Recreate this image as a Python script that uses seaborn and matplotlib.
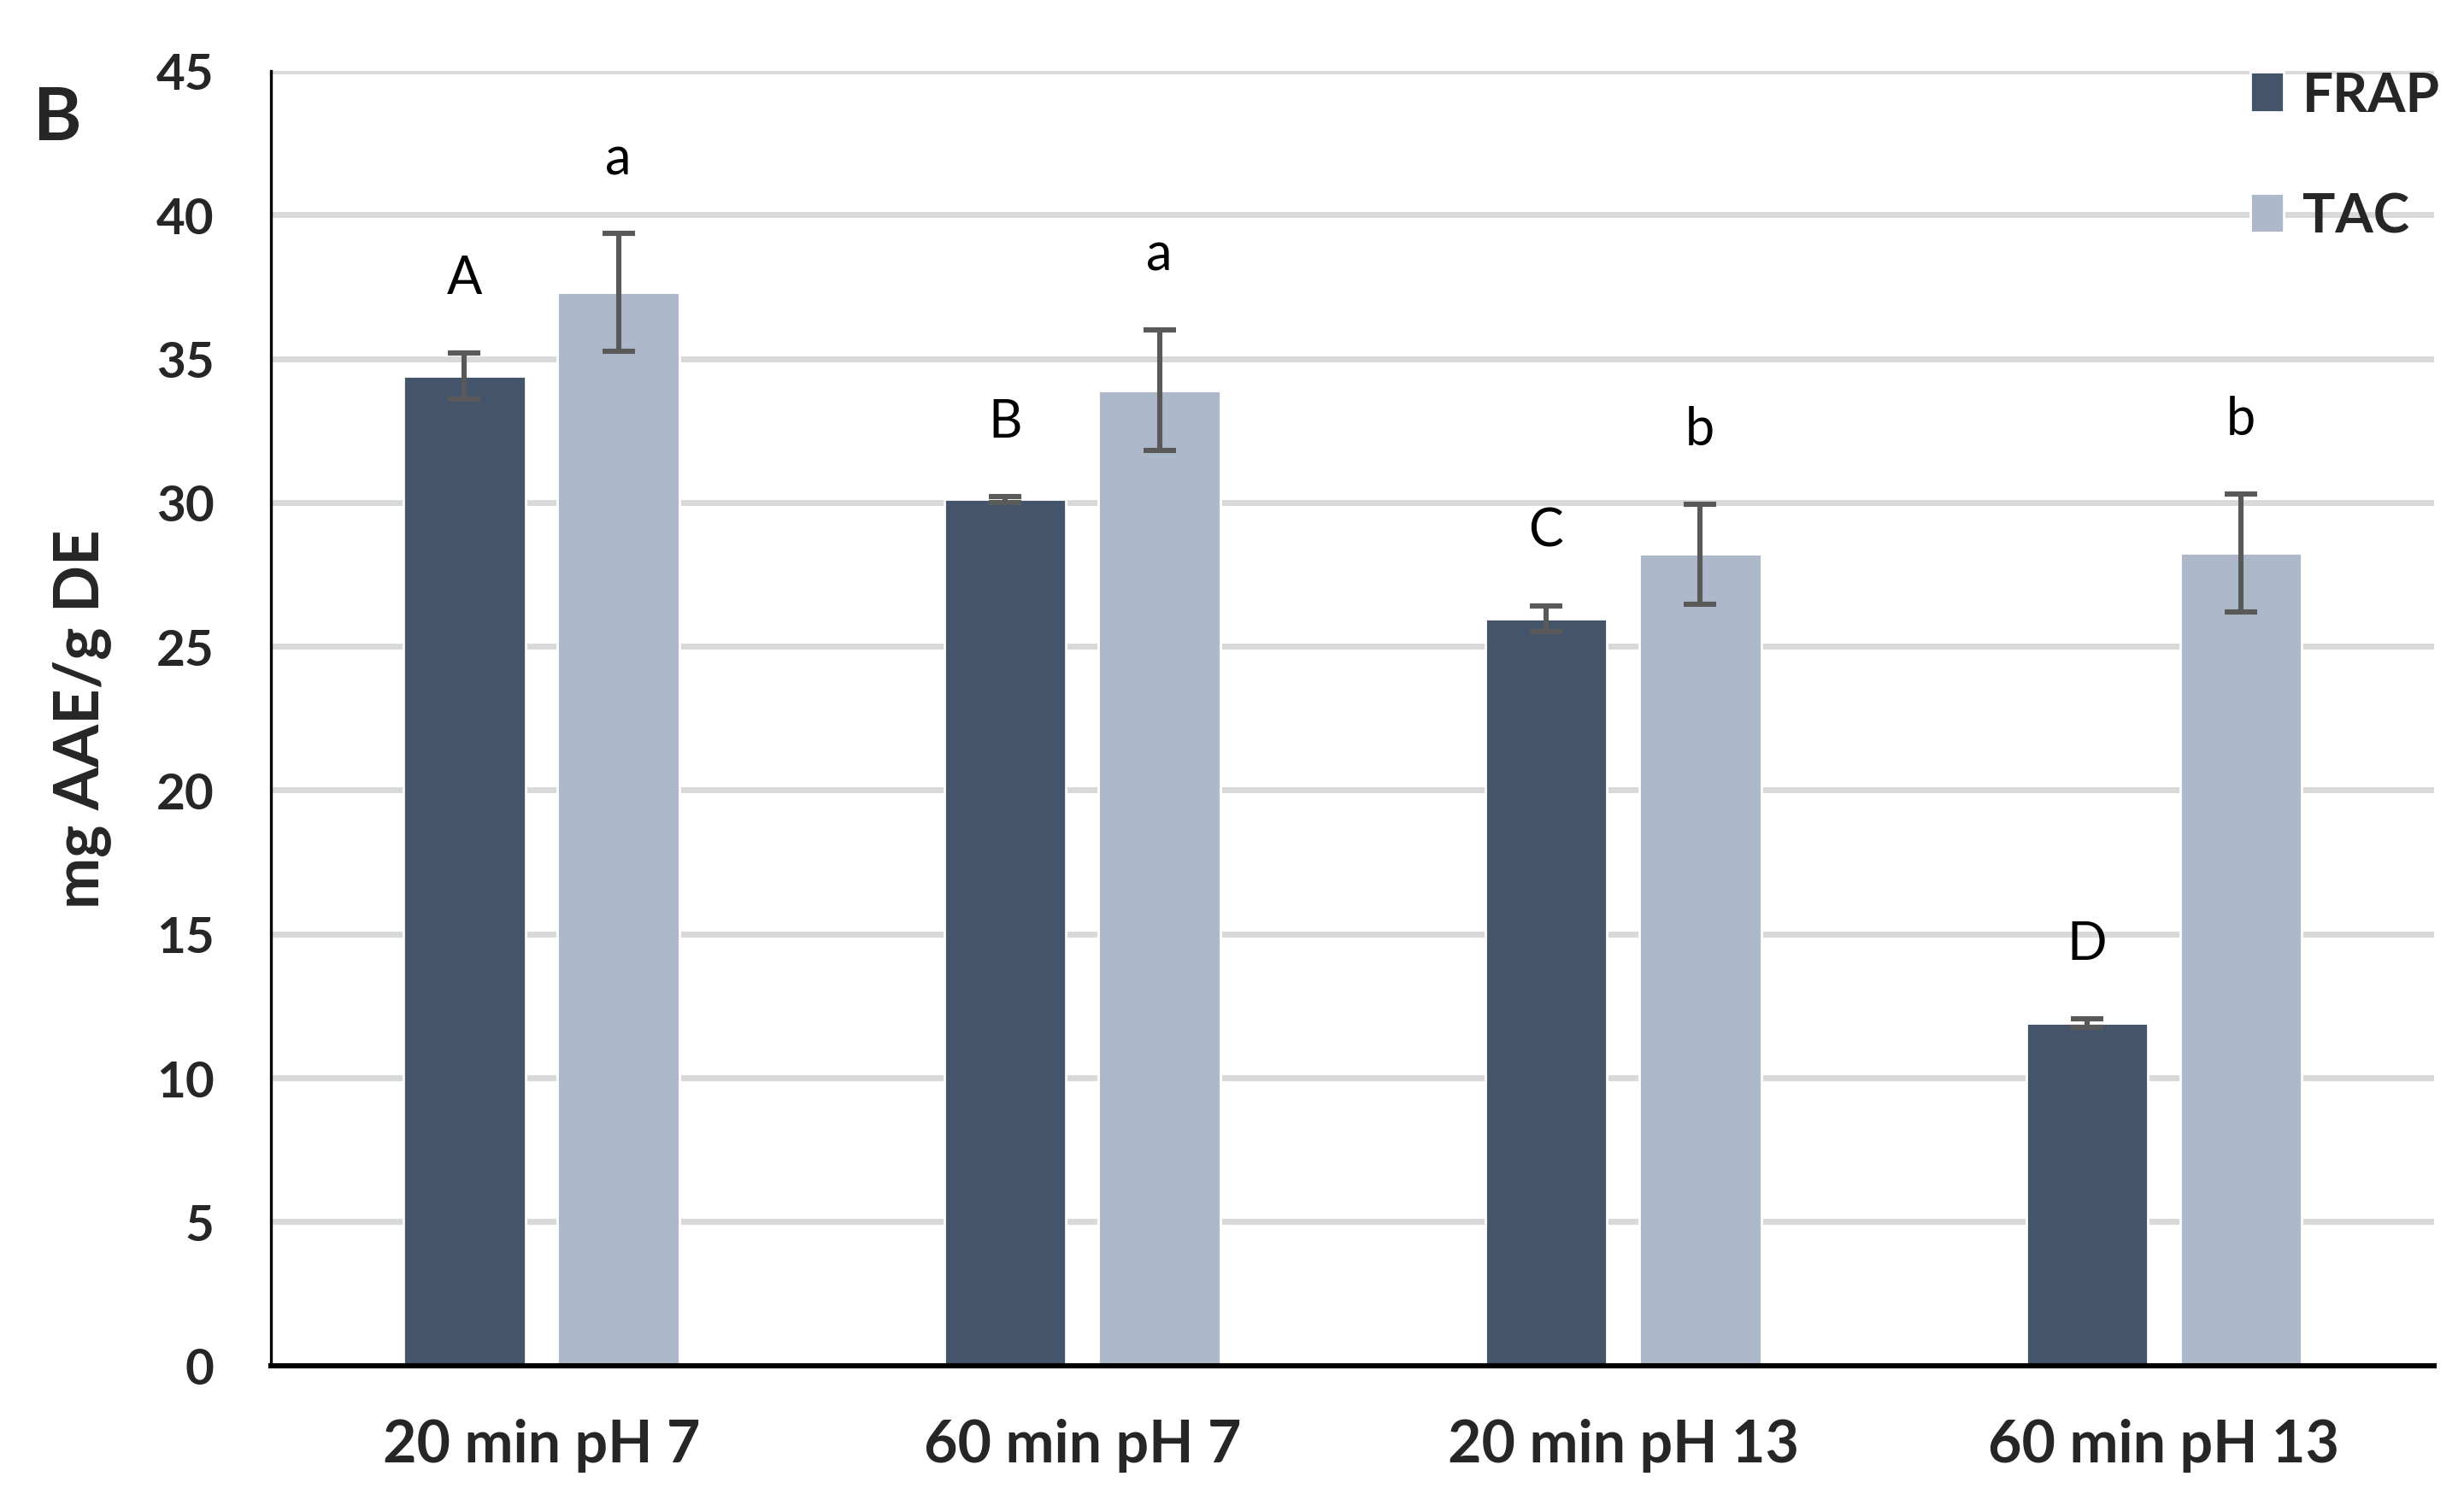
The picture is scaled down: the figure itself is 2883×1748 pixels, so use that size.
import matplotlib
matplotlib.use('Agg')
import matplotlib.pyplot as plt
import seaborn as sns
import pandas as pd

# values (mg AAE/g DE)
conditions = ['20 min pH 7', '60 min pH 7', '20 min pH 13', '60 min pH 13']
methods = ['FRAP', 'TAC']
frap = [34.4, 30.1, 25.95, 11.9]
frap_err = [0.8, 0.1, 0.45, 0.15]
tac = [37.3, 33.9, 28.2, 28.25]
tac_err = [2.05, 2.1, 1.75, 2.05]
frap_letters = ['A', 'B', 'C', 'D']
tac_letters = ['a', 'a', 'b', 'b']
yticks = [0, 5, 10, 15, 20, 25, 30, 35, 40, 45]

df = pd.DataFrame({
    'condition': conditions * 2,
    'method': ['FRAP'] * 4 + ['TAC'] * 4,
    'value': frap + tac,
})

sns.set_theme(style='white')
plt.rcParams['font.family'] = ['Lato', 'DejaVu Sans']

fig = plt.figure(figsize=(14.415, 8.745), dpi=200)
ax = fig.add_axes([0.110, 0.086, 0.878, 0.866])

sns.barplot(data=df, x='condition', y='value', hue='method', order=conditions,
            hue_order=methods, palette=['#44546A', '#ADB9CA'], width=0.57, gap=0.21,
            errorbar=None, saturation=1, ax=ax, zorder=2)

# error bars and significance letters on top of the bars
errs = [frap_err, tac_err]
letters = [frap_letters, tac_letters]
for cont, err, lab in zip(ax.containers, errs, letters):
    for bar, e, t in zip(cont.patches, err, lab):
        xc = bar.get_x() + bar.get_width() / 2
        h = bar.get_height()
        ax.errorbar(xc, h, yerr=e, color='#595959', lw=2.2, capsize=6.8,
                    capthick=2.2, zorder=3)
        ax.text(xc, h + e + 2.6, t, ha='center', va='center', fontsize=22,
                color='black', zorder=4)

ax.set_xlim(-0.5, 3.5)
ax.set_ylim(0, 45)
ax.set_yticks(yticks)
ax.yaxis.grid(True, color='#D9D9D9', lw=2.5, zorder=0)
ax.set_axisbelow(True)
for s in ['top', 'right']:
    ax.spines[s].set_visible(False)
ax.spines['left'].set_color('black')
ax.spines['left'].set_linewidth(1.2)
ax.spines['bottom'].set_color('black')
ax.spines['bottom'].set_linewidth(2.2)
ax.tick_params(axis='both', length=0)
ax.tick_params(axis='y', pad=24, labelsize=21)
ax.tick_params(axis='x', pad=22, labelsize=24.5)
for lbl in ax.get_xticklabels() + ax.get_yticklabels():
    lbl.set_fontweight('bold')

ax.set_xlabel('')
ax.set_ylabel('mg AAE/g DE', fontsize=26, fontweight='bold')
ax.yaxis.set_label_coords(-0.074, 0.5)

leg = ax.legend(loc='upper left', bbox_to_anchor=(0.915, 1.0), frameon=False,
                fontsize=23, handlelength=0.6, handleheight=0.75, handletextpad=0.35,
                labelspacing=1.32, borderpad=0, borderaxespad=0)
for t in leg.get_texts():
    t.set_fontweight('bold')

fig.text(0.023, 0.92, 'B', fontsize=31, fontweight='bold', ha='center', va='center')

fig.savefig('out.png', dpi=200)
